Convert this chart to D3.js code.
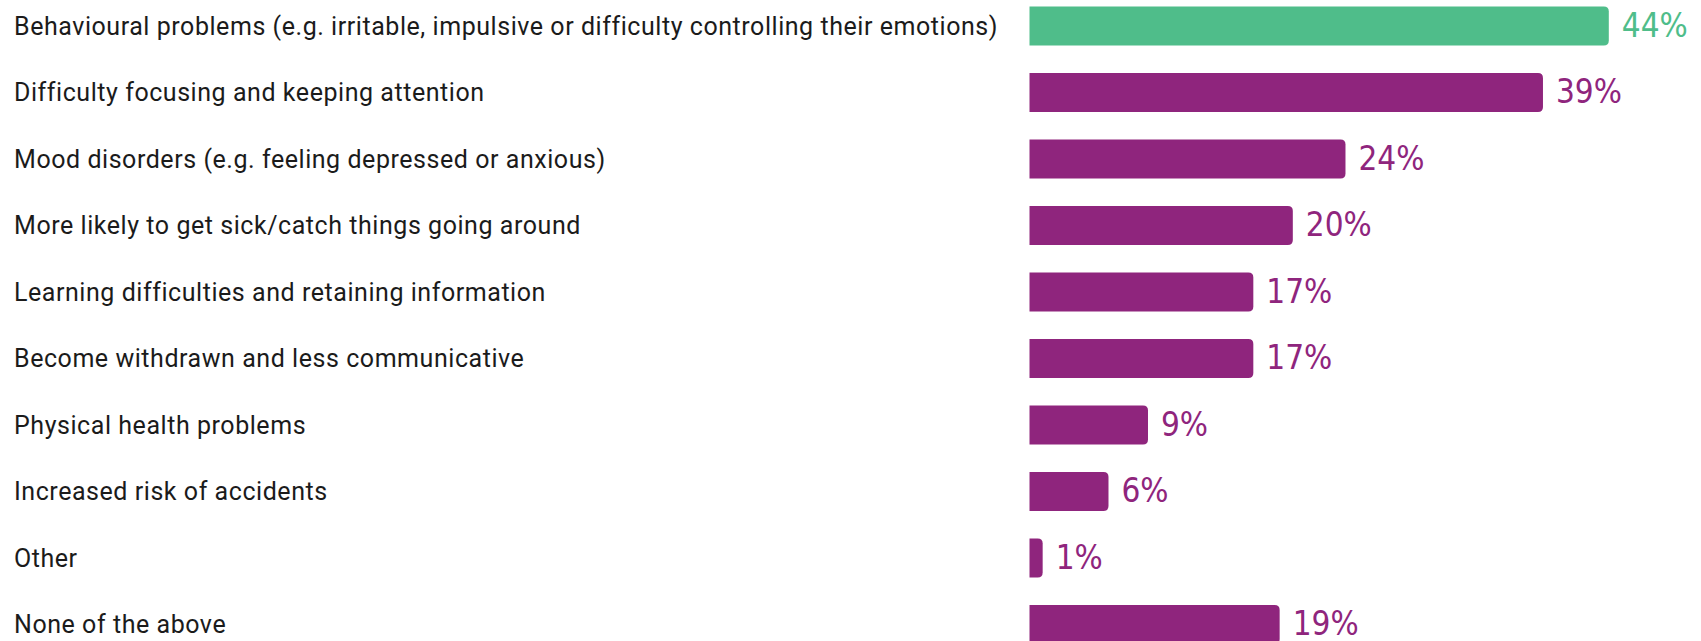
<!DOCTYPE html>
<html>
<head>
<meta charset="utf-8">
<script src="https://cdn.jsdelivr.net/npm/d3@7"></script>
<style>
  html, body { margin: 0; padding: 0; background: #fff; overflow: hidden; }
  .cat-label { font-family: Roboto, sans-serif; font-size: 25px; letter-spacing: 0.55px; fill: #1b1b1b; }
  .val-label { font-family: "DejaVu Sans Condensed", "DejaVu Sans", sans-serif; font-size: 33px; }
</style>
</head>
<body>
<div id="chart"></div>
<script>
const categories = [
  'Behavioural problems (e.g. irritable, impulsive or difficulty controlling their emotions)',
  'Difficulty focusing and keeping attention',
  'Mood disorders (e.g. feeling depressed or anxious)',
  'More likely to get sick/catch things going around',
  'Learning difficulties and retaining information',
  'Become withdrawn and less communicative',
  'Physical health problems',
  'Increased risk of accidents',
  'Other',
  'None of the above'
]
const values = [44, 39, 24, 20, 17, 17, 9, 6, 1, 19]
const highlight = [true, false, false, false, false, false, false, false, false, false]

const width = 1701
const height = 641
const green = '#4fbd8a'
const purple = '#8f257d'

const svg = d3.select('#chart')
  .append('svg')
  .attr('width', width)
  .attr('height', height)

const xScale = d3.scaleLinear()
  .domain([0, 44])
  .range([1029.5, 1608.8])

const yScale = d3.scaleBand()
  .domain(categories)
  .range([6.5, 644])
  .paddingInner(0.4135)
  .paddingOuter(0)

// bars: square on the left, rounded on the right
function barPath(x0, x1, y, h, r){
  r = Math.min(r, (x1 - x0), h / 2)
  return `M${x0},${y}H${x1 - r}Q${x1},${y} ${x1},${y + r}V${y + h - r}Q${x1},${y + h} ${x1 - r},${y + h}H${x0}Z`
}

const rows = svg.append('g')
  .selectAll('g')
  .data(categories)
  .join('g')

rows.append('text')
  .attr('class', 'cat-label')
  .attr('x', 14)
  .attr('y', d => yScale(d) + yScale.bandwidth() / 2)
  .attr('dy', '0.35em')
  .text(d => d)

rows.append('path')
  .attr('d', (d, i) => barPath(xScale(0), xScale(values[i]), yScale(d), yScale.bandwidth(), 5))
  .attr('fill', (d, i) => highlight[i] ? green : purple)

rows.append('text')
  .attr('class', 'val-label')
  .attr('x', (d, i) => xScale(values[i]) + 13)
  .attr('y', d => yScale(d) + yScale.bandwidth() / 2)
  .attr('dy', '0.33em')
  .attr('fill', (d, i) => highlight[i] ? green : purple)
  .text((d, i) => values[i] + '%')
</script>
</body>
</html>
